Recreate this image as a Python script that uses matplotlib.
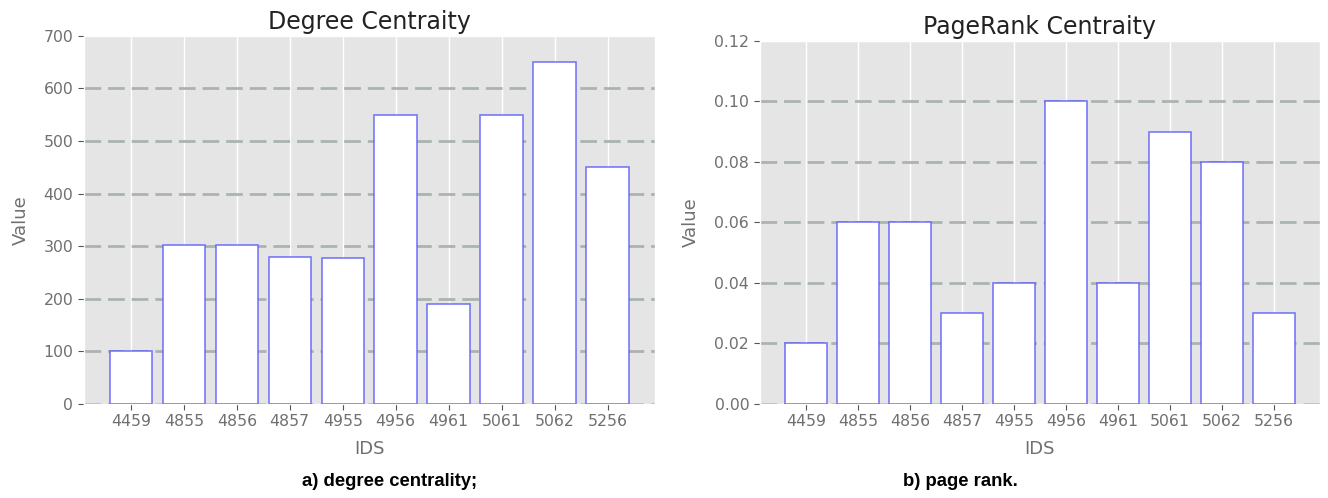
import numpy as np
import matplotlib
matplotlib.use("Agg")
import matplotlib.pyplot as plt

ids = ["4459", "4855", "4856", "4857", "4955", "4956", "4961", "5061", "5062", "5256"]
degree = [100, 302, 302, 280, 277, 550, 190, 550, 650, 450]
pagerank = [0.02, 0.06, 0.06, 0.03, 0.04, 0.10, 0.04, 0.09, 0.08, 0.03]

plt.style.use("ggplot")
plt.rcParams["font.family"] = ["DejaVu Sans"]

fig = plt.figure(figsize=(13.28, 4.98), dpi=100)
ax1 = fig.add_axes([0.063, 0.189, 0.430, 0.739])
ax2 = fig.add_axes([0.572, 0.189, 0.422, 0.729])


def draw(ax, values, title, yticks, fmt):
    x = np.arange(len(ids))
    ax.bar(x, values, width=0.8, color="white", edgecolor=(0.35, 0.35, 1.0, 0.8), linewidth=1.2, zorder=3)
    ax.set_xticks(x)
    ax.set_xticklabels(ids, fontsize=11.3, color="#707070")
    ax.set_yticks(yticks)
    ax.set_yticklabels([fmt.format(v) for v in yticks], fontsize=11.3, color="#707070")
    ax.set_ylim(yticks[0], yticks[-1])
    ax.grid(axis="x", color="white", linewidth=1.0)
    ax.grid(axis="y", color="#aab4ae", linestyle="--", linewidth=2, dashes=(6, 2.5))
    ax.get_ygridlines()[-1].set_visible(False)
    ax.set_axisbelow(True)
    ax.set_title(title, fontsize=17, color="#222222", pad=5)
    ax.set_xlabel("IDS", fontsize=13, color="#707070", labelpad=8)
    ax.set_ylabel("Value", fontsize=13, color="#707070", labelpad=10)
    ax.tick_params(axis="both", length=4, color="#555555")


draw(ax1, degree, "Degree Centraity", list(range(0, 701, 100)), "{:d}")
draw(ax2, pagerank, "PageRank Centraity", [0.0, 0.02, 0.04, 0.06, 0.08, 0.10, 0.12], "{:.2f}")

cap_font = ["Liberation Sans", "DejaVu Sans"]
fig.text(0.2937, 0.033, "a) degree centrality;", ha="center", va="center",
         fontsize=13.3, fontweight="bold", family=cap_font)
fig.text(0.723, 0.033, "b) page rank.", ha="center", va="center",
         fontsize=13.3, fontweight="bold", family=cap_font)

fig.savefig("out.png", dpi=100, facecolor="white")
